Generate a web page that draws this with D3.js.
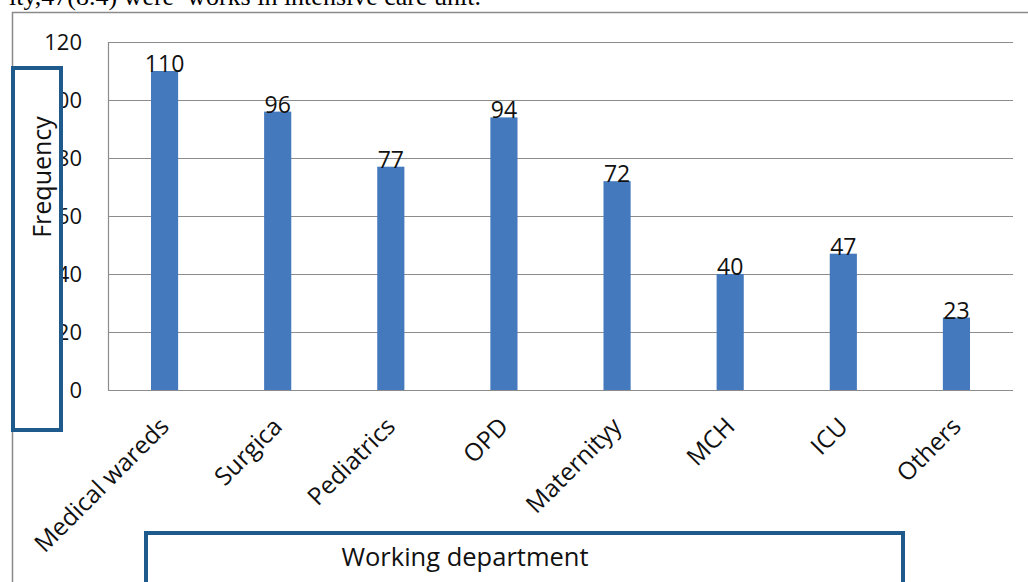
<!DOCTYPE html>
<html><head><meta charset="utf-8">
<script src="https://cdn.jsdelivr.net/npm/d3@7"></script>
<style>body{margin:0;background:#fff}svg{display:block}</style>
</head><body>
<svg id="c" width="1028" height="582"></svg>
<script>
const categories = ["Medical wareds","Surgica","Pediatrics","OPD","Maternityy","MCH","ICU","Others"];
const values = [110, 96, 77, 94, 72, 40, 47, 25];
const dataLabels = ["110","96","77","94","72","40","47","23"];
const yTicks = [0, 20, 40, 60, 80, 100, 120];
const yTitle = "Frequency";
const xTitle = "Working department";
const topText = "ity,47(8.4) were  works in intensive care unit.";

const svg = d3.select("#c");
const W = 1028, H = 582;
const m = {left:108, right:1013, top:42, bottom:390};
const font = "'Open Sans', sans-serif";

// page text above chart
svg.append("text").attr("x", 481).attr("y", 5).attr("text-anchor","end")
  .attr("font-family","'Liberation Serif', serif")
  .attr("font-size", 26).attr("fill","#000").attr("xml:space","preserve").text(topText);

// outer chart frame
svg.append("path").attr("d", `M12.5,${H} V12.5 H${W}`).attr("fill","none").attr("stroke","#8a8a8a").attr("stroke-width",1.5);

const x = d3.scaleBand().domain(categories).range([m.left, m.right]).paddingInner(0.76).paddingOuter(0.38);
const y = d3.scaleLinear().domain([0,120]).range([m.bottom, m.top]);

// gridlines
svg.append("g").selectAll("line").data(yTicks).join("line")
  .attr("x1", m.left).attr("x2", m.right)
  .attr("y1", d => y(d)+0.5).attr("y2", d => y(d)+0.5)
  .attr("stroke","#8c8c8c").attr("stroke-width",1.2);
svg.append("line").attr("x1", m.left+0.5).attr("x2", m.left+0.5).attr("y1", m.top).attr("y2", m.bottom)
  .attr("stroke","#8c8c8c").attr("stroke-width",1.2);

// y tick labels
svg.append("g").selectAll("text").data(yTicks).join("text")
  .attr("x", 82).attr("y", d => y(d)).attr("dy","0.36em").attr("text-anchor","end")
  .attr("font-family", font).attr("font-size", 22).attr("fill","#111").text(d => d);

// bars
svg.append("g").selectAll("rect").data(values).join("rect")
  .attr("x", (d,i) => x(categories[i])).attr("width", x.bandwidth())
  .attr("y", d => y(d)).attr("height", d => y(0) - y(d))
  .attr("fill","#4479bd");

// data labels
svg.append("g").selectAll("text").data(values).join("text")
  .attr("x", (d,i) => x(categories[i]) + x.bandwidth()/2).attr("y", d => y(d) + 1)
  .attr("text-anchor","middle").attr("font-family", font).attr("font-size", 23).attr("fill","#111")
  .text((d,i) => dataLabels[i]);

// x category labels
svg.append("g").selectAll("text").data(categories).join("text")
  .attr("transform", d => `translate(${x(d) + x.bandwidth()/2 + 6},${m.bottom + 38}) rotate(-45)`)
  .attr("text-anchor","end").attr("font-family", font).attr("font-size", 24.5).attr("fill","#111")
  .text(d => d);

// y title box
svg.append("rect").attr("x", 13).attr("y", 68).attr("width", 48).attr("height", 362)
  .attr("fill","#fff").attr("stroke","#1f5a8c").attr("stroke-width",4);
svg.append("text").attr("transform", "translate(51,177) rotate(-90)")
  .attr("text-anchor","middle").attr("font-family", font).attr("font-size", 25).attr("fill","#111").text(yTitle);

// x title box
svg.append("rect").attr("x", 146).attr("y", 533).attr("width", 757).attr("height", 70)
  .attr("fill","#fff").attr("stroke","#1f5a8c").attr("stroke-width",4);
svg.append("text").attr("x", 465).attr("y", 566).attr("text-anchor","middle")
  .attr("font-family", font).attr("font-size", 25.5).attr("fill","#111").text(xTitle);
</script>
</body></html>
